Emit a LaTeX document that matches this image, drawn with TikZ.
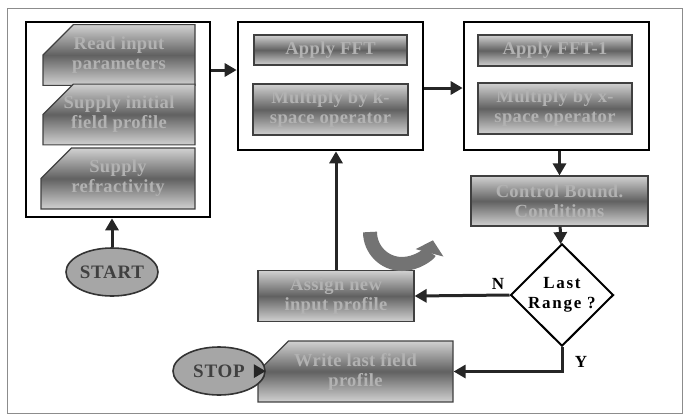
\documentclass[tikz,border=0pt]{standalone}
\usepackage{fontspec}
\setmainfont{Liberation Serif}
\usetikzlibrary{arrows.meta, positioning, shapes.geometric, shapes.misc}

\begin{document}
\begin{tikzpicture}[
    x=1pt, y=-1pt,
    proc/.style = {
        rectangle,
        draw=black!75,
        line width=1.2pt,
        top color=black!18,
        bottom color=black!18,
        middle color=black!62,
        text=black!30,
        font=\bfseries\fontsize{18.5}{20}\selectfont\addfontfeature{LetterSpace=2},
        align=center,
        inner sep=0pt
    },
    chamf/.style = {
        proc,
        chamfered rectangle,
        chamfered rectangle corners=north west,
        chamfered rectangle xsep=30pt,
        chamfered rectangle ysep=12pt
    },
    container/.style = {
        rectangle,
        draw=black,
        line width=2.6pt,
        inner sep=0pt
    },
    term/.style = {
        ellipse,
        draw=black!80,
        line width=1.6pt,
        fill=black!35,
        text=black!75,
        font=\bfseries\fontsize{19}{20}\selectfont\addfontfeature{LetterSpace=4},
        minimum width=92pt,
        minimum height=48pt,
        inner sep=0pt
    },
    decision/.style = {
        diamond,
        draw=black,
        line width=2pt,
        fill=white,
        align=center,
        font=\bfseries\fontsize{17}{20}\selectfont\addfontfeature{LetterSpace=10},
        minimum width=103pt,
        minimum height=85pt,
        inner sep=0pt
    },
    lab/.style = {
        font=\bfseries\fontsize{17}{18}\selectfont
    },
    arr/.style = {
        draw=black!85,
        line width=3pt,
        -{Triangle[length=12pt,width=13pt]}
    }
]

\useasboundingbox (0,0) rectangle (683,416);
\draw[black!45, line width=0.8pt] (7,8) rectangle (682,413);

% Containers
\node[container, minimum width=184pt, minimum height=195pt] (lbox) at (118,119.5) {};
\node[container, minimum width=185pt, minimum height=128pt] (mbox) at (330.5,86) {};
\node[container, minimum width=185pt, minimum height=128pt] (rbox) at (556.5,86) {};

% Input steps
\node[chamf, minimum width=152pt, minimum height=50pt] (read) at (119,55)    {Read input\\parameters};
\node[chamf, minimum width=152pt, minimum height=51pt] (init) at (119,114.5) {Supply initial\\field profile};
\node[chamf, minimum width=154pt, minimum height=51pt] (refr) at (118,178.5) {Supply\\refractivity};

% Propagation steps
\node[proc, minimum width=153pt, minimum height=30pt] (fft)  at (330.5,50)  {Apply FFT};
\node[proc, minimum width=155pt, minimum height=51pt] (kmul) at (330.5,109.5) {Multiply by k-\\space operator};
\node[proc, minimum width=154pt, minimum height=31pt] (ifft) at (555,50.5)  {Apply FFT-1};
\node[proc, minimum width=154pt, minimum height=51pt] (xmul) at (555,108.5) {Multiply by x-\\space operator};

\node[proc, minimum width=177pt, minimum height=50pt] (bound)  at (559.5,201) {Control Bound.\\Conditions};
\node[decision] (last) at (562,295) {Last\\Range ?};
\node[proc, minimum width=156pt, minimum height=51pt] (assign) at (336,296) {Assign new\\input profile};
\node[chamf, minimum width=195pt, minimum height=50pt] (write) at (355.5,371.5) {Write last field\\profile};

\node[term] (start) at (112,272) {START};
\node[term] (stop)  at (219,371) {STOP};

% Main arrows
\coordinate (lout) at ([yshift=49.5pt]lbox.east);
\draw[arr] (lout) -- (lout -| mbox.west);
\draw[arr] ([yshift=-2pt]mbox.east) -- ([yshift=-2pt]rbox.west);
\draw[arr] (rbox.south -| bound) -- (bound);
\draw[arr] (bound) -- (last);
\draw[arr] (start) -- (start |- lbox.south);

% Decision branches
\draw[arr] (last.west) -- node[lab, pos=0.12, above=1pt] {N} (assign.east);
\draw[arr] (assign) -- (assign |- mbox.south);
\draw[arr] (last.south) |- node[lab, pos=0.3, right=8pt] {Y} (write.east);
\draw[arr] (write) -- (stop);

% Loop symbol
\draw[black!55, line width=14pt, -{Triangle[length=13pt,width=28pt]}]
    (370,232) arc[start angle=180, end angle=15, radius=32];

\end{tikzpicture}
\end{document}
